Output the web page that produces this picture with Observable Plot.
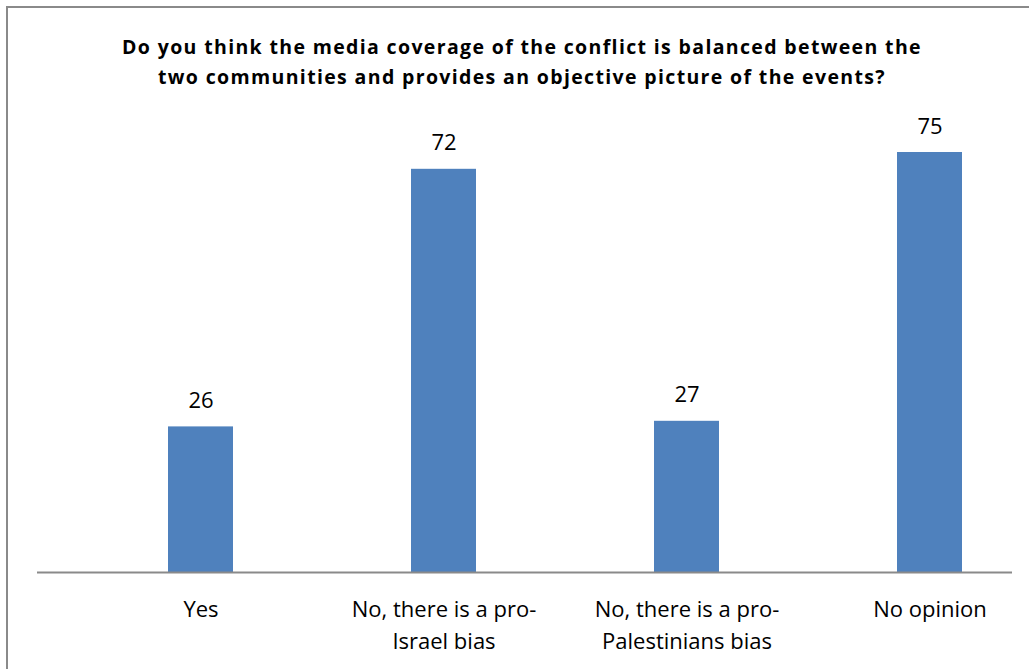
<!DOCTYPE html>
<html>
<head>
<meta charset="utf-8">
<script src="https://cdn.jsdelivr.net/npm/d3@7"></script>
<script src="https://cdn.jsdelivr.net/npm/@observablehq/plot@0.6"></script>
<style>
  html, body { margin: 0; padding: 0; background: #fff; overflow: hidden; }
  #wrap { position: relative; width: 1029px; height: 669px; }
  #frame { position: absolute; left: 6px; top: 6px; width: 1040px; height: 700px;
           border-left: 2px solid #8a8a8a; border-top: 2px solid #8a8a8a; box-sizing: border-box; }
  #title { position: absolute; left: 22px; width: 1000px; top: 32px; text-align: center;
           font-family: "Open Sans", Lato, sans-serif; font-weight: bold; font-size: 19.5px;
           letter-spacing: 1.35px; line-height: 30px; color: #000; }
  #chart { position: absolute; left: 0; top: 0; }
</style>
</head>
<body>
<div id="wrap">
  <div id="frame"></div>
  <div id="title">Do you think the media coverage of the conflict is balanced between the<br>two communities and provides an objective picture of the events?</div>
  <div id="chart"></div>
</div>
<script>
const categories = [
  "Yes",
  "No, there is a pro-\nIsrael bias",
  "No, there is a pro-\nPalestinians bias",
  "No opinion"
];
const values = [26, 72, 27, 75];

const data = categories.map((c, i) => ({category: c, value: values[i]}));

const plot = Plot.plot({
  width: 1029,
  height: 669,
  marginLeft: 37,
  marginRight: 17,
  marginTop: 124,
  marginBottom: 97,
  style: {fontFamily: "'Open Sans', Lato, sans-serif", fontSize: "22px"},
  x: {domain: categories, paddingInner: 0.733, paddingOuter: 0.3645, align: 0.725, axis: null},
  y: {domain: [0, 80], axis: null},
  marks: [
    Plot.barY(data, {x: "category", y: "value", fill: "#4F81BD"}),
    Plot.ruleY([0], {stroke: "#8a8a8a", strokeWidth: 2}),
    Plot.text(data, {x: "category", y: "value", text: d => String(d.value),
      lineAnchor: "bottom", dy: -19, fontSize: 22, fill: "#000"}),
    Plot.text(data, {x: "category", text: "category", frameAnchor: "bottom",
      lineAnchor: "top", dy: 21, fontSize: 22, lineHeight: 1.48, fill: "#000"})
  ]
});
document.getElementById("chart").appendChild(plot);
</script>
</body>
</html>
